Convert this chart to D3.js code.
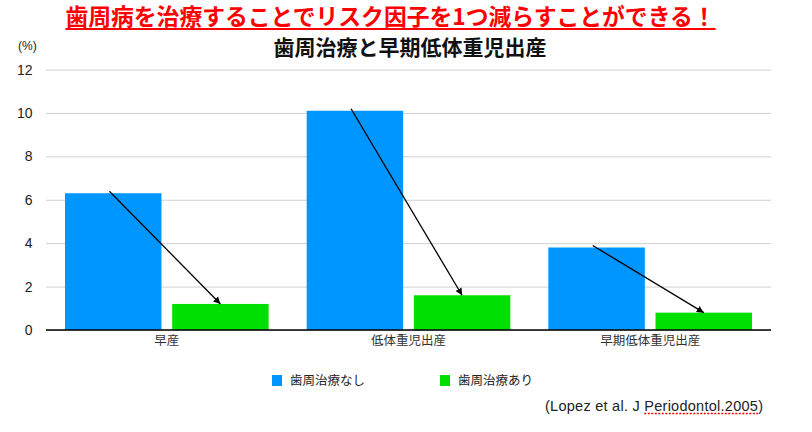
<!DOCTYPE html>
<html lang="ja">
<head>
  <meta charset="UTF-8">
  <title>歯周治療と早期低体重児出産</title>
  <script src="https://d3js.org/d3.v7.min.js"></script>
  <style>
    body { margin: 0; background: #fff; }
    svg text { font-family: "Liberation Sans", "Noto Sans CJK JP", sans-serif; }
    .jp { font-family: "Noto Sans CJK JP", sans-serif; }
    .grid line { stroke: #d0d0d0; stroke-width: 1; }
  </style>
</head>
<body>
  <div id="chart"></div>

  <script>
    const categories = ["早産", "低体重児出産", "早期低体重児出産"];
    const series = ["歯周治療なし", "歯周治療あり"];
    const untreated = [6.3, 10.1, 3.8];
    const treated = [1.2, 1.6, 0.8];
    const yTicks = [0, 2, 4, 6, 8, 10, 12];
    const colors = ["#0096ff", "#00e000"];

    const headline = "歯周病を治療することでリスク因子を1つ減らすことができる！";
    const title = "歯周治療と早期低体重児出産";
    const unit = "(%)";
    const source = ["(Lopez et al. J ", "Periodontol.2005", ")"];

    const width = 812, height = 432;
    const margin = { top: 69.5, right: 41, bottom: 102, left: 46 };

    const svg = d3.select("#chart")
      .append("svg")
      .attr("width", width)
      .attr("height", height);

    const x0 = d3.scaleBand()
      .domain(categories)
      .range([margin.left, width - margin.right]);

    const x1 = d3.scaleBand()
      .domain(series)
      .range([19, x0.bandwidth() - 19])
      .paddingInner(0.1);

    const y = d3.scaleLinear()
      .domain([0, 12])
      .range([height - margin.bottom, margin.top]);

    // gridlines + tick labels
    svg.append("g")
      .attr("class", "grid")
      .attr("transform", `translate(${margin.left},0)`)
      .call(d3.axisLeft(y).tickValues(yTicks).tickSize(-(width - margin.left - margin.right)).tickFormat(""))
      .call(g => g.select(".domain").remove());

    svg.append("g")
      .selectAll("text")
      .data(yTicks)
      .enter()
      .append("text")
      .attr("x", 32.5)
      .attr("y", d => y(d))
      .attr("dy", "0.36em")
      .attr("text-anchor", "end")
      .attr("font-size", 14)
      .attr("fill", "#222")
      .text(d => d);

    // bars
    const rows = categories.map((c, i) => ({ cat: c, values: [untreated[i], treated[i]] }));

    const groups = svg.selectAll(".group")
      .data(rows)
      .enter()
      .append("g")
      .attr("class", "group")
      .attr("transform", d => `translate(${x0(d.cat)},0)`);

    groups.selectAll("rect")
      .data(d => d.values.map((v, j) => ({ s: series[j], v, j })))
      .enter()
      .append("rect")
      .attr("x", d => x1(d.s))
      .attr("y", d => y(d.v))
      .attr("width", x1.bandwidth())
      .attr("height", d => y(0) - y(d.v))
      .attr("fill", d => colors[d.j]);

    // baseline
    svg.append("line")
      .attr("x1", margin.left)
      .attr("x2", width - margin.right)
      .attr("y1", y(0))
      .attr("y2", y(0))
      .attr("stroke", "#000")
      .attr("stroke-width", 1.5);

    // category labels
    svg.selectAll(".cat")
      .data(categories)
      .enter()
      .append("text")
      .attr("class", "jp")
      .attr("x", d => x0(d) + x0.bandwidth() / 2)
      .attr("y", y(0) + 15)
      .attr("text-anchor", "middle")
      .attr("font-size", 12.5)
      .attr("fill", "#333")
      .text(d => d);

    // arrows from untreated bar to treated bar
    svg.append("defs").append("marker")
      .attr("id", "head")
      .attr("viewBox", "0 0 10 10")
      .attr("refX", 10)
      .attr("refY", 5)
      .attr("markerWidth", 7)
      .attr("markerHeight", 7)
      .attr("markerUnits", "userSpaceOnUse")
      .attr("orient", "auto")
      .append("path")
      .attr("d", "M0,0 L10,5 L0,10 z")
      .attr("fill", "#000");

    svg.selectAll(".arrow")
      .data(rows)
      .enter()
      .append("line")
      .attr("x1", d => x0(d.cat) + x1(series[0]) + x1.bandwidth() * 0.46)
      .attr("y1", d => y(d.values[0]) - 2)
      .attr("x2", d => x0(d.cat) + x1(series[1]) + x1.bandwidth() / 2)
      .attr("y2", d => y(d.values[1]))
      .attr("stroke", "#000")
      .attr("stroke-width", 1.3)
      .attr("marker-end", "url(#head)");

    // headline
    const head = svg.append("text")
      .attr("class", "jp")
      .attr("x", 390.5)
      .attr("y", 25)
      .attr("text-anchor", "middle")
      .attr("font-size", 22.8)
      .attr("font-weight", "bold")
      .attr("fill", "#f00")
      .text(headline);
    const hb = head.node().getBBox();
    svg.append("line")
      .attr("x1", hb.x)
      .attr("x2", hb.x + hb.width)
      .attr("y1", 29)
      .attr("y2", 29)
      .attr("stroke", "#f00")
      .attr("stroke-width", 2);

    svg.append("text")
      .attr("class", "jp")
      .attr("x", 410)
      .attr("y", 55)
      .attr("text-anchor", "middle")
      .attr("font-size", 21)
      .attr("font-weight", "bold")
      .attr("fill", "#111")
      .text(title);

    svg.append("text")
      .attr("x", 18)
      .attr("y", 50)
      .attr("font-size", 12)
      .attr("fill", "#222")
      .text(unit);

    // legend
    const legendX = [272, 440];
    series.forEach((s, i) => {
      svg.append("rect")
        .attr("x", legendX[i])
        .attr("y", 375)
        .attr("width", 10)
        .attr("height", 11)
        .attr("fill", colors[i]);
      svg.append("text")
        .attr("class", "jp")
        .attr("x", legendX[i] + 18)
        .attr("y", 385)
        .attr("font-size", 12.5)
        .attr("fill", "#222")
        .text(s);
    });

    // source
    const src = svg.append("text")
      .attr("x", 545)
      .attr("y", 411)
      .attr("font-size", 14.5)
      .attr("textLength", 218)
      .attr("lengthAdjust", "spacing")
      .attr("fill", "#222");
    src.selectAll("tspan")
      .data(source)
      .enter()
      .append("tspan")
      .text(d => d);
    const node = src.node();
    const n0 = source[0].length, n1 = source[1].length;
    const start = node.getStartPositionOfChar(n0).x;
    const end = node.getEndPositionOfChar(n0 + n1 - 1).x;
    svg.append("line")
      .attr("x1", start)
      .attr("x2", end)
      .attr("y1", 413.5)
      .attr("y2", 413.5)
      .attr("stroke", "#e00")
      .attr("stroke-width", 1.5)
      .attr("stroke-dasharray", "2,1.5");
  </script>
</body>
</html>
